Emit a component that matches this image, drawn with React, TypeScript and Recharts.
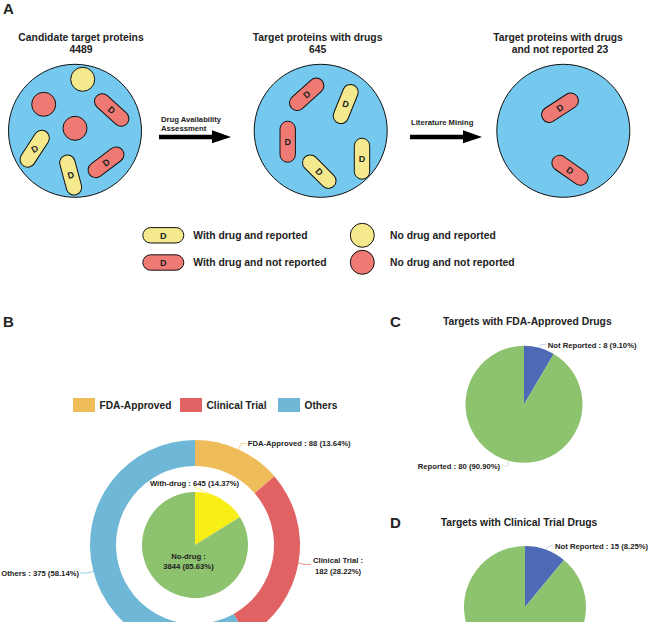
import React from 'react'
import { PieChart, Pie, Cell } from 'recharts'

const FONT = '"Liberation Sans", Arial, sans-serif'

// Panel B, outer ring
const drugStageNames = ['FDA-Approved', 'Clinical Trial', 'Others']
const drugStageCounts = [88, 182, 375]
const drugStagePercents = ['13.64%', '28.22%', '58.14%']
const drugStageColors = ['#EFBC5A', '#E06262', '#6FB7D6']

const drugNames = ['With-drug', 'No-drug']
const drugShares = [16.1, 83.9]
const drugCounts = [645, 3844]
const drugPercents = ['14.37%', '85.63%']
const drugColors = ['#F8EF17', '#8DC26F']

// Panels C and D, same thing about the shares
const reportNames = ['Not Reported', 'Reported']
const reportColors = ['#4E69B5', '#8DC26F']
const fdaShares = [8.5, 91.5]
const fdaCounts = [8, 80]
const fdaPercents = ['9.10%', '90.90%']
const trialShares = [11, 89]
const trialCounts = [15]
const trialPercents = ['8.25%']

const table = (names: string[], values: number[]) =>
	names.map((name, i) => ({ name, value: values[i] }))

const YELLOW = '#F5E98E'
const RED = '#EF7A74'
const SKY = '#75C8EE'

// schematic: [x, y, rotation, glyph rotation, fill]
const capsules: [number, number, number, number, string][] = [
	[111.7, 110, 42, 42, RED],
	[34.7, 148.7, -57, -30, YELLOW],
	[70.7, 175, 75, -15, YELLOW],
	[106, 162.3, -37, -37, RED],
	[306.7, 94.3, -42, -42, RED],
	[287.7, 141.7, 90, 0, RED],
	[345.7, 104, -68, 15, YELLOW],
	[362, 158.7, 90, 0, YELLOW],
	[319.3, 171.7, 45, 45, YELLOW],
	[560, 107.7, -33, -33, RED],
	[570, 170.3, 35, 35, RED],
]
const dots: [number, number, string][] = [
	[82.7, 79.3, YELLOW],
	[43.7, 104.3, RED],
	[75, 128.3, RED],
	[362.3, 235.3, YELLOW],
	[362.3, 262.3, RED],
]
const wells = [75, 320.7, 563.3]

const Capsule = ({ x, y, rot, dRot, fill }: any) => (
	<g transform={`translate(${x} ${y})`}>
		<rect
			x={-20.5}
			y={-7.7}
			width={41}
			height={15.4}
			rx={7.7}
			fill={fill}
			stroke='#111'
			strokeWidth={1}
			transform={`rotate(${rot})`}
		/>
		<text
			transform={`rotate(${dRot})`}
			textAnchor='middle'
			y={3.3}
			fontSize={9}
			fontWeight={700}
			fill='#222'
		>
			D
		</text>
	</g>
)

const Arrow = ({ x }: { x: number }) => (
	<path
		d={`M${x} 134.7H${x + 53}V130.3L${x + 72} 137L${x + 53} 143.3V139.3H${x}Z`}
		fill='#000'
	/>
)

const Schematic = () => (
	<svg
		width={650}
		height={624}
		style={{ position: 'absolute', left: 0, top: 0 }}
		fontFamily={FONT}
	>
		{wells.map((x) => (
			<circle key={x} cx={x} cy={130.8} r={66.5} fill={SKY} stroke='#111' strokeWidth={1} />
		))}
		{dots.map(([x, y, fill], i) => (
			<circle key={i} cx={x} cy={y} r={12} fill={fill} stroke='#111' strokeWidth={1} />
		))}
		{capsules.map(([x, y, rot, dRot, fill], i) => (
			<Capsule key={i} x={x} y={y} rot={rot} dRot={dRot} fill={fill} />
		))}
		<Capsule x={163.3} y={235.3} rot={0} dRot={0} fill={YELLOW} />
		<Capsule x={163.3} y={262.5} rot={0} dRot={0} fill={RED} />
		<Arrow x={159} />
		<Arrow x={410} />

		<g fontWeight={700} fill='#222'>
			<text x={3} y={14} fontSize={15}>A</text>
			<text x={3} y={327} fontSize={15}>B</text>
			<text x={390} y={327} fontSize={15}>C</text>
			<text x={390} y={528} fontSize={15}>D</text>

			<g fontSize={10.35} textAnchor='middle'>
				<text x={81} y={40.5}>Candidate target proteins</text>
				<text x={81} y={53}>4489</text>
				<text x={317.6} y={40.5}>Target proteins with drugs</text>
				<text x={317.6} y={53}>645</text>
				<text x={558} y={40.5}>Target proteins with drugs</text>
				<text x={560} y={53}>and not reported 23</text>
				<text x={527.3} y={324.5}>Targets with FDA-Approved Drugs</text>
				<text x={519} y={526}>Targets with Clinical Trial Drugs</text>
			</g>

			<g fontSize={7.7}>
				<text x={161} y={121.5}>Drug Availability</text>
				<text x={161} y={131}>Assessment</text>
				<text x={411} y={125}>Literature Mining</text>
			</g>

			<g fontSize={10.35}>
				<text x={193.3} y={238.8}>With drug and reported</text>
				<text x={193.3} y={266}>With drug and not reported</text>
				<text x={390} y={238.8}>No drug and reported</text>
				<text x={390} y={266}>No drug and not reported</text>
			</g>
		</g>

		{drugStageNames.map((name, i) => {
			const x = [73, 180, 278][i]
			return (
				<g key={name}>
					<rect x={x} y={398} width={22} height={14} fill={drugStageColors[i]} />
					<text x={x + 26.5} y={409} fontSize={10.2} fontWeight={700} fill='#222'>
						{name}
					</text>
				</g>
			)
		})}
	</svg>
)

// text lines and leader end for a slice label, in page pixels
type Slot = {
	lines: string[]
	anchor: 'start' | 'middle' | 'end'
	x: number
	y: number
	elbow?: [number, number]
	end?: [number, number]
}

const makeLabel = (slots: Slot[], color: string[]) => (props: any) => {
	const { cx, cy, midAngle, outerRadius, index } = props
	const slot = slots[index]
	if (!slot) return null
	const rad = (midAngle * Math.PI) / 180
	const sx = cx + outerRadius * Math.cos(rad)
	const sy = cy - outerRadius * Math.sin(rad)
	const pts = [[sx, sy], slot.elbow, slot.end].filter(Boolean) as number[][]
	return (
		<g>
			{pts.length > 1 && (
				<polyline
					points={pts.map((p) => p.join(',')).join(' ')}
					fill='none'
					stroke={color[index]}
					strokeWidth={0.7}
				/>
			)}
			{slot.lines.map((line, i) => (
				<text
					key={i}
					x={slot.x}
					y={slot.y + i * (slot.lines.length > 1 ? 10.8 : 0)}
					textAnchor={slot.anchor}
					fontFamily={FONT}
					fontSize={7.7}
					fontWeight={700}
					fill='#222'
				>
					{line}
				</text>
			))}
		</g>
	)
}

const stageSlots: Slot[] = [
	{
		lines: [`${drugStageNames[0]} : ${drugStageCounts[0]} (${drugStagePercents[0]})`],
		anchor: 'start', x: 247.7, y: 446, elbow: [241, 443.5], end: [246, 443.5],
	},
	{
		lines: [`${drugStageNames[1]} :`, `${drugStageCounts[1]} (${drugStagePercents[1]})`],
		anchor: 'middle', x: 338, y: 563.3, elbow: [304, 564.5], end: [311, 564.5],
	},
	{
		lines: [`${drugStageNames[2]} : ${drugStageCounts[2]} (${drugStagePercents[2]})`],
		anchor: 'start', x: 1.3, y: 576, elbow: [86, 573], end: [80, 573],
	},
]
const drugSlots: Slot[] = [
	{
		lines: [`${drugNames[0]} : ${drugCounts[0]} (${drugPercents[0]})`],
		anchor: 'middle', x: 194.5, y: 485.5, elbow: [205, 492], end: [194, 486.5],
	},
	{
		lines: [`${drugNames[1]} :`, `${drugCounts[1]} (${drugPercents[1]})`],
		anchor: 'middle', x: 188.5, y: 558.5,
	},
]
const fdaSlots: Slot[] = [
	{
		lines: [`${reportNames[0]} : ${fdaCounts[0]} (${fdaPercents[0]})`],
		anchor: 'start', x: 547.7, y: 347.7, elbow: [541, 344.5], end: [546, 344.5],
	},
	{
		lines: [`${reportNames[1]} : ${fdaCounts[1]} (${fdaPercents[1]})`],
		anchor: 'start', x: 417.7, y: 468.7, elbow: [507.5, 466], end: [502, 466],
	},
]
const trialSlots: Slot[] = [
	{
		lines: [`${reportNames[0]} : ${trialCounts[0]} (${trialPercents[0]})`],
		anchor: 'start', x: 555, y: 548.7, elbow: [549, 546], end: [553, 546],
	},
]

const App = () => (
	<div
		style={{
			position: 'absolute',
			left: 0,
			top: 0,
			width: 650,
			height: 622,
			overflow: 'hidden',
			background: '#fff',
		}}
	>
		<Schematic />
		<div style={{ position: 'absolute', left: 0, top: 0 }}>
			<PieChart width={650} height={622} margin={{ top: 0, right: 0, bottom: 0, left: 0 }}>
				<Pie
					data={table(drugStageNames, drugStageCounts)}
					dataKey='value'
					cx={195}
					cy={545}
					innerRadius={79}
					outerRadius={105}
					startAngle={90}
					endAngle={-270}
					stroke='none'
					isAnimationActive={false}
					labelLine={false}
					label={makeLabel(stageSlots, drugStageColors)}
				>
					{drugStageColors.map((c) => (
						<Cell key={c} fill={c} />
					))}
				</Pie>
				<Pie
					data={table(drugNames, drugShares)}
					dataKey='value'
					cx={195}
					cy={545}
					outerRadius={53}
					startAngle={90}
					endAngle={-270}
					stroke='none'
					isAnimationActive={false}
					labelLine={false}
					label={makeLabel(drugSlots, drugColors)}
				>
					{drugColors.map((c) => (
						<Cell key={c} fill={c} />
					))}
				</Pie>
				<Pie
					data={table(reportNames, fdaShares)}
					dataKey='value'
					cx={524}
					cy={404.3}
					outerRadius={58.5}
					startAngle={90}
					endAngle={-270}
					stroke='none'
					isAnimationActive={false}
					labelLine={false}
					label={makeLabel(fdaSlots, ['#B9C3DE', '#C6DFB6'])}
				>
					{reportColors.map((c) => (
						<Cell key={c} fill={c} />
					))}
				</Pie>
				<Pie
					data={table(reportNames, trialShares)}
					dataKey='value'
					cx={525}
					cy={607}
					outerRadius={61}
					startAngle={90}
					endAngle={-270}
					stroke='none'
					isAnimationActive={false}
					labelLine={false}
					label={makeLabel(trialSlots, ['#B9C3DE'])}
				>
					{reportColors.map((c) => (
						<Cell key={c} fill={c} />
					))}
				</Pie>
			</PieChart>
		</div>
	</div>
)

export default App
